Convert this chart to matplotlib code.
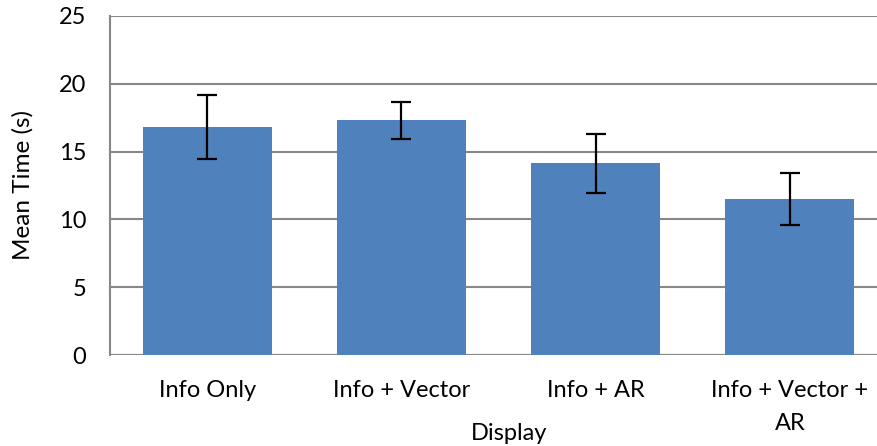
import matplotlib.pyplot as plt

categories = ["Info Only", "Info + Vector", "Info + AR", "Info + Vector +\nAR"]
mean_time = [16.8, 17.3, 14.15, 11.5]
err = [2.35, 1.35, 2.17, 1.93]

plt.rcParams['font.family'] = ['Lato', 'DejaVu Sans']

fig = plt.figure(figsize=(8.77, 4.46), dpi=100)
# plot area runs a little past the right edge of the image, as in the original
ax = fig.add_axes([110 / 877, 1 - 355 / 446, 777 / 877, (355 - 16) / 446])

x = range(len(categories))
ax.bar(x, mean_time, width=0.664, color="#4F81BD", zorder=2)
ax.errorbar(x, mean_time, yerr=err, fmt="none", ecolor="black",
            elinewidth=1.6, capsize=7.5, capthick=1.6, zorder=3)

ax.set_xlim(-0.5, len(categories) - 0.5)
ax.set_ylim(0, 25)
ax.set_yticks(range(0, 26, 5))
ax.yaxis.grid(True, color="#878787", linewidth=1.5, zorder=0)
ax.set_axisbelow(True)

for s in ["right", "bottom", "top"]:
    ax.spines[s].set_visible(False)
ax.spines["left"].set_color("#878787")
ax.spines["left"].set_linewidth(1.5)
ax.axhline(0, color="#878787", linewidth=1.5, zorder=1)

ax.set_xticks(list(x))
ax.set_xticklabels(categories, fontsize=17, linespacing=1.7)
ax.tick_params(axis="x", length=0, pad=18)
ax.tick_params(axis="y", length=0, pad=17, labelsize=17)

ax.set_ylabel("Mean Time (s)", fontsize=17.5, labelpad=18)
ax.set_xlabel("Display", fontsize=17)
ax.xaxis.set_label_coords((509 - 110) / 777, -0.2)

fig.savefig("out.png", dpi=100)
